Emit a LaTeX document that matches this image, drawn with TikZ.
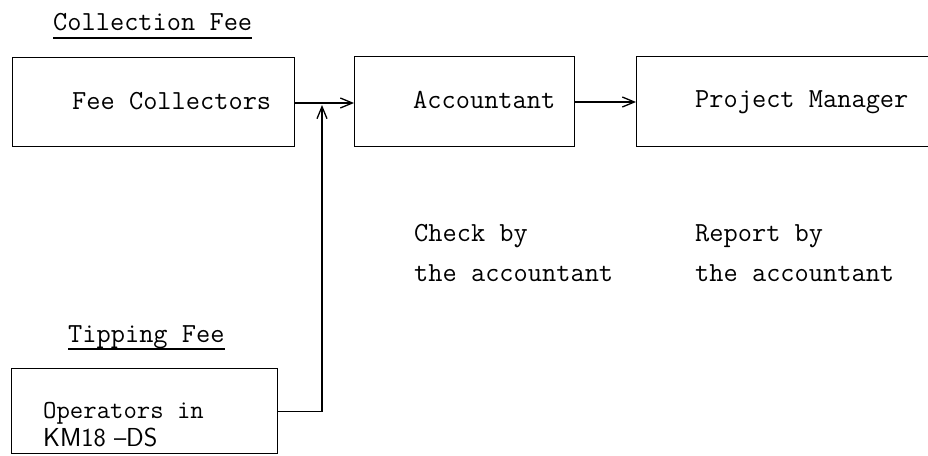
\documentclass[tikz,border=0pt]{standalone}
\usetikzlibrary{arrows.meta}
\begin{document}
\begin{tikzpicture}[x=1pt,y=-1pt,
  box/.style={draw,line width=1.4pt,rectangle,inner sep=0pt,anchor=north west},
  lbl/.style={inner sep=0pt,anchor=base west,font=\fontsize{27.6}{30}\selectfont\ttfamily},
  smalllbl/.style={inner sep=0pt,anchor=base west,font=\fontsize{26}{28}\selectfont\ttfamily},
  sanslbl/.style={inner sep=0pt,anchor=base west,font=\fontsize{26}{28}\selectfont\sffamily},
  conn/.style={line width=1.3pt,-{Straight Barb[length=12pt,width=10pt,line width=1.3pt]}},
  uline/.style={line width=1.1pt}]
\useasboundingbox (0,0) rectangle (928,455);
\clip (0,0) rectangle (928,455);
% headings
\node[lbl] (cf) at (53,30) {Collection Fee};
\draw[uline] ([yshift=-8pt]cf.base west) -- ([yshift=-8pt]cf.base east);
\node[lbl] (tf) at (68,342) {Tipping Fee};
\draw[uline] ([yshift=-7pt]tf.base west) -- ([yshift=-7pt]tf.base east);
% boxes
\node[box,minimum width=282pt,minimum height=89pt] (fc) at (12,57) {};
\node[box,minimum width=220pt,minimum height=90pt] (acc) at (354,56) {};
\node[box,minimum width=320pt,minimum height=90pt] (pm) at (636,56) {};
\node[box,minimum width=266pt,minimum height=85pt] (op) at (11,368) {};
% box texts
\node[lbl] (fct) at (72,109) {Fee Collectors};
\node[lbl] (acct) at (413,108) {Accountant};
\node[lbl] (pmt) at (695,107) {Project Manager};
\node[smalllbl] (opt1) at (43,418) {Operators in};
\node[sanslbl] (opt2) at (43,446) {KM18 \raisebox{0pt}{--}DS};
% notes
\node[lbl] (ck1) at (414,241) {Check by};
\node[lbl] (ck2) at (414,281) {the accountant};
\node[lbl] (rp1) at (695,241) {Report by};
\node[lbl] (rp2) at (695,281) {the accountant};
% connectors
\coordinate (j) at (322,105);
\draw[conn] (fc.east |- 0,103) -- (acc.west |- 0,103);
\draw[conn] (acc.east |- 0,102) -- (pm.west |- 0,102);
\draw[conn] (op.east) -| (j);
\end{tikzpicture}
\end{document}
